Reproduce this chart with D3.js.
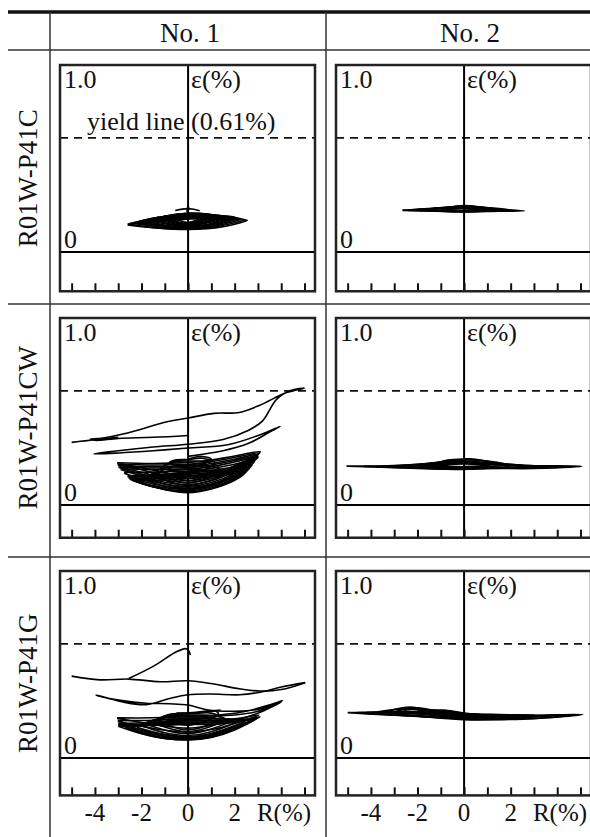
<html>
<head>
<meta charset="utf-8">
<title>Strain vs drift ratio</title>
<style>
body { margin: 0; background: #fff; }
text { font-family: "Liberation Serif", "Times New Roman", serif; fill: #111; }
</style>
<script src="https://d3js.org/d3.v7.min.js"></script>
</head>
<body>
<svg width="590" height="837"></svg>
<script>
var columns = ["No. 1", "No. 2"];
var specimens = ["R01W-P41C", "R01W-P41CW", "R01W-P41G"];
var driftTicks = [-5, -4, -3, -2, -1, 0, 1, 2, 3, 4, 5];
var driftLabels = [-4, -2, 0, 2];
var yieldStrain = 0.61;

// loops, points are [R(%), strain(%)]
var p41c_no1 = [
  [[-2.6,0.145],[-1.5,0.13],[0,0.12],[1.5,0.135],[2.55,0.17],[1.5,0.172],[0.5,0.178],[-0.5,0.172],[-1.5,0.162],[-2.6,0.15]],
  [[-2.5,0.148],[-1.3,0.128],[0,0.122],[1.3,0.138],[2.45,0.174],[1.3,0.176],[0,0.182],[-1.3,0.17],[-2.5,0.154]],
  [[-2.35,0.152],[-1.2,0.134],[0,0.125],[1.2,0.14],[2.3,0.178],[1.4,0.18],[0,0.185],[-1.2,0.176],[-2.35,0.158]],
  [[-2.2,0.155],[-1.1,0.132],[0,0.128],[1.1,0.142],[2.15,0.182],[1.2,0.184],[0,0.188],[-1.1,0.18],[-2.2,0.162]],
  [[-2.1,0.158],[-1,0.138],[0,0.13],[1,0.145],[2.05,0.185],[1.1,0.188],[0,0.19],[-1,0.183],[-2.1,0.166]],
  [[-1.95,0.162],[-1,0.14],[0,0.133],[1,0.148],[1.95,0.188],[1,0.19],[0,0.193],[-1,0.186],[-1.95,0.17]],
  [[-1.8,0.165],[-0.9,0.142],[0,0.135],[0.9,0.15],[1.8,0.19],[1,0.192],[0,0.196],[-1,0.19],[-1.8,0.174]],
  [[-1.65,0.168],[0,0.138],[1.65,0.19],[0.7,0.196],[-0.7,0.194],[-1.65,0.177]],
  [[-1.5,0.172],[0,0.14],[1.5,0.192],[0.6,0.198],[-0.6,0.196],[-1.5,0.18]],
  [[-1.35,0.176],[0,0.143],[1.35,0.194],[0.5,0.2],[-0.5,0.198],[-1.35,0.183]],
  [[-1.2,0.18],[0,0.146],[1.2,0.196],[0.4,0.202],[-0.5,0.2],[-1.2,0.186]],
  [[-1.05,0.183],[0,0.149],[1.05,0.198],[0.2,0.204],[-0.6,0.2],[-1.05,0.189]],
  [[-0.9,0.186],[0,0.152],[0.9,0.2],[0,0.206],[-0.9,0.192]],
  [[-0.7,0.19],[0,0.158],[0.7,0.2],[0,0.208],[-0.7,0.196]],
  [[-0.55,0.222],[0,0.232],[0.5,0.22]],
  [[-0.05,0.215],[0,0.244],[0.05,0.228]]
];
var p41c_no2 = [
  [[-2.65,0.222],[-1.5,0.22],[0,0.214],[1.5,0.218],[2.6,0.22],[1.5,0.226],[0,0.232],[-1.5,0.23],[-2.65,0.224]],
  [[-2.4,0.222],[-1.2,0.219],[0,0.215],[1.2,0.22],[2.3,0.222],[1.2,0.228],[0,0.236],[-1.2,0.232],[-2.4,0.225]],
  [[-2,0.222],[0,0.218],[2,0.225],[0,0.242],[-2,0.228]],
  [[-1.7,0.223],[0,0.217],[1.7,0.226],[0.8,0.236],[0,0.243],[-0.9,0.236],[-1.7,0.229]],
  [[-1.3,0.225],[0,0.22],[1.3,0.23],[0,0.245],[-1.3,0.232]],
  [[-1.0,0.226],[0,0.221],[1.0,0.232],[0.3,0.246],[-0.4,0.242],[-1.0,0.232]],
  [[-0.8,0.228],[0,0.222],[0.8,0.235],[0,0.248],[-0.8,0.235]]
];
var p41cw_no1 = [
  [[-5.0,0.335],[-4.0,0.35],[-2.6,0.385],[-0.9,0.445],[0,0.465],[1.1,0.49],[2.2,0.495],[3.1,0.535],[4.2,0.6],[5.0,0.625],[4.4,0.612],[3.8,0.565],[3.2,0.45],[2.6,0.4],[1.5,0.35],[0,0.325],[-1.5,0.31],[-3,0.29],[-4.05,0.273],[-3,0.278],[-1.5,0.29],[0,0.305],[1.7,0.322],[3.1,0.376],[3.95,0.42],[3.5,0.39],[2.6,0.33],[1.5,0.29],[0,0.26]],
  [[0,0.372],[-1.5,0.362],[-3.0,0.356],[-4.0,0.346],[-4.2,0.352],[-3.6,0.356],[-3.0,0.362]],
  [[-3.05,0.222],[-2,0.2],[-1,0.172],[0,0.155],[1,0.172],[2,0.21],[3.1,0.285],[2,0.262],[1,0.24],[0,0.228],[-1.5,0.222],[-3.05,0.226]],
  [[-3.02,0.215],[-2,0.188],[-1,0.158],[0,0.142],[1,0.16],[2,0.202],[3.05,0.278],[2,0.254],[1,0.232],[0,0.218],[-1.5,0.214],[-3.02,0.218]],
  [[-3.0,0.205],[-2,0.175],[-1,0.145],[0,0.13],[1,0.15],[2,0.195],[3.0,0.27],[2,0.245],[1,0.222],[0,0.208],[-1.5,0.205],[-3.0,0.21]],
  [[-2.95,0.198],[-2,0.165],[-1,0.133],[0,0.12],[1,0.14],[2,0.188],[3.0,0.262],[2,0.238],[1,0.214],[0,0.2],[-1.5,0.198],[-2.95,0.202]],
  [[-2.9,0.19],[-2,0.155],[-1,0.122],[0,0.11],[1,0.13],[2,0.18],[3.0,0.255],[2,0.23],[1,0.205],[0,0.192],[-1.5,0.19],[-2.9,0.194]],
  [[-2.75,0.17],[-1.7,0.13],[0,0.1],[1,0.12],[2,0.17],[2.9,0.245],[2,0.218],[1,0.195],[0,0.182],[-1.5,0.176],[-2.75,0.174]],
  [[-2.6,0.152],[-1.5,0.112],[0,0.09],[1,0.11],[2,0.16],[2.85,0.232],[2,0.205],[1,0.185],[0,0.172],[-1.5,0.162],[-2.6,0.156]],
  [[-2.55,0.145],[-1.5,0.104],[0,0.083],[1,0.103],[2,0.152],[2.75,0.215],[1.5,0.18],[0,0.164],[-1.5,0.154],[-2.55,0.148]],
  [[-2.5,0.138],[-1.5,0.097],[0,0.076],[1,0.096],[2,0.143],[2.65,0.2],[1.5,0.172],[0,0.156],[-1.5,0.146],[-2.5,0.142]],
  [[-2.4,0.133],[-1.2,0.09],[0,0.07],[1,0.09],[2,0.138],[2.55,0.188],[1.5,0.165],[0,0.15],[-1.3,0.14],[-2.4,0.136]],
  [[-2.3,0.128],[-1,0.082],[0,0.066],[1,0.086],[2,0.132],[2.45,0.175],[1.5,0.158],[0,0.142],[-1.2,0.132],[-2.3,0.13]],
  [[-2.0,0.14],[-1,0.1],[0,0.085],[1,0.105],[2.2,0.165],[1,0.17],[0,0.168],[-1,0.152],[-2.0,0.145]],
  [[-1.8,0.15],[-0.9,0.108],[0,0.095],[1,0.112],[1.9,0.16],[1,0.178],[0,0.178],[-0.9,0.165],[-1.8,0.155]],
  [[-1.6,0.16],[0,0.105],[1.6,0.17],[0.6,0.19],[-0.6,0.185],[-1.6,0.165]],
  [[-1.4,0.175],[0,0.118],[1.45,0.185],[0.7,0.21],[-0.6,0.208],[-1.4,0.182]],
  [[-1.2,0.19],[0,0.13],[1.3,0.2],[0.8,0.23],[0,0.235],[-0.6,0.23],[-1.2,0.2]],
  [[-1.0,0.208],[0,0.165],[1.15,0.225],[0.6,0.25],[0,0.242],[-0.5,0.238],[-1.0,0.215]],
  [[-0.8,0.225],[0,0.2],[1.0,0.245],[0.5,0.26],[0,0.245],[-0.5,0.242],[-0.8,0.23]]
];
var p41cw_no2 = [
  [[-5.05,0.207],[-3,0.2],[-1,0.192],[0,0.19],[1,0.195],[3,0.195],[5.05,0.207],[3,0.21],[1,0.215],[0,0.22],[-1,0.215],[-3,0.21],[-5.05,0.208]],
  [[-4.3,0.206],[-2.5,0.2],[-1,0.193],[0,0.192],[1,0.196],[2.5,0.198],[4.3,0.206],[2.5,0.21],[1,0.218],[0,0.224],[-1,0.218],[-2.5,0.21],[-4.3,0.207]],
  [[-3.5,0.205],[-1.5,0.2],[0,0.195],[1.5,0.2],[3.5,0.205],[1.5,0.22],[0,0.228],[-1.5,0.22],[-3.5,0.208]],
  [[-2.8,0.207],[-1.2,0.2],[0,0.197],[1.2,0.202],[2.8,0.207],[1.2,0.226],[0,0.234],[-1.2,0.226],[-2.8,0.21]],
  [[-2,0.21],[0,0.2],[2,0.21],[1,0.235],[0,0.24],[-1,0.23],[-2,0.215]],
  [[-1.6,0.212],[0,0.202],[1.6,0.214],[0.8,0.238],[0,0.243],[-0.8,0.235],[-1.6,0.218]],
  [[-1.2,0.215],[0,0.205],[1.2,0.22],[0.5,0.245],[0,0.246],[-0.7,0.24],[-1.2,0.22]]
];
var p41g_no1 = [
  [[-2.55,0.425],[-1.5,0.49],[-0.5,0.568],[-0.1,0.585],[0.02,0.575],[0.1,0.55]],
  [[-5.0,0.438],[-3.8,0.418],[-2.55,0.422],[-1.2,0.408],[0,0.413],[1.0,0.398],[2.2,0.37],[3.1,0.358],[4.0,0.366],[5.03,0.403]],
  [[5.03,0.403],[4.0,0.38],[3.1,0.352],[2.2,0.338],[1.0,0.342],[0,0.338],[-0.8,0.318],[-1.8,0.285],[-2.9,0.302],[-3.95,0.337],[-3.8,0.33],[-2.9,0.308],[-1.8,0.293],[-0.8,0.29],[0,0.283],[0.8,0.258],[2.0,0.25],[3.1,0.262],[4.05,0.307],[3.4,0.28],[2.5,0.25],[1.5,0.232],[0.5,0.222]],
  [[-3.05,0.212],[-2,0.19],[-1,0.17],[0,0.16],[1,0.175],[2,0.2],[3.0,0.24],[4.0,0.3],[3,0.25],[2,0.23],[1,0.225],[0,0.225],[-1.5,0.215],[-3.05,0.215]],
  [[-3.02,0.195],[-2,0.17],[-1,0.148],[0,0.138],[1,0.152],[2,0.185],[3.05,0.23],[2,0.21],[1,0.21],[0,0.212],[-1.5,0.202],[-3.02,0.2]],
  [[-3.0,0.18],[-2,0.15],[-1,0.125],[0,0.115],[1,0.13],[2,0.17],[3.1,0.22],[2,0.2],[1,0.2],[0,0.2],[-1.5,0.19],[-3.0,0.185]],
  [[-2.9,0.175],[-2,0.14],[-1,0.115],[0,0.105],[1,0.12],[2,0.16],[3.0,0.215],[2,0.195],[1,0.19],[0,0.19],[-1.5,0.182],[-2.9,0.178]],
  [[-3.0,0.17],[-2,0.13],[-1,0.105],[0,0.097],[1,0.11],[2,0.15],[2.9,0.21],[2,0.19],[1,0.18],[0,0.18],[-1.5,0.175],[-3.0,0.172]],
  [[-2.7,0.165],[-1.5,0.115],[0,0.098],[1,0.112],[2,0.155],[2.8,0.205],[1.5,0.192],[0,0.185],[-1.3,0.178],[-2.7,0.168]],
  [[-2.5,0.16],[-1.5,0.12],[0,0.1],[1,0.115],[2,0.16],[2.7,0.2],[1.5,0.19],[0,0.19],[-1.2,0.18],[-2.5,0.165]],
  [[-2.35,0.162],[-1.2,0.122],[0,0.105],[1,0.122],[2.2,0.18],[2.5,0.205],[1.3,0.198],[0,0.198],[-1.1,0.188],[-2.35,0.17]],
  [[-2.2,0.165],[-1,0.125],[0,0.11],[1,0.13],[2.4,0.2],[1.2,0.2],[0,0.205],[-1,0.195],[-2.2,0.175]],
  [[-2.0,0.172],[-1,0.135],[0,0.12],[1,0.14],[2.1,0.2],[1.1,0.21],[0,0.212],[-1,0.205],[-2.0,0.182]],
  [[-1.8,0.18],[0,0.13],[1.8,0.2],[1.0,0.215],[0,0.22],[-1,0.215],[-1.8,0.19]],
  [[-1.55,0.19],[0,0.14],[1.6,0.208],[1.0,0.228],[0,0.228],[-0.8,0.225],[-1.55,0.2]],
  [[-1.3,0.2],[0,0.15],[1.4,0.215],[1,0.24],[0,0.235],[-0.7,0.235],[-1.3,0.21]],
  [[-1.1,0.212],[0,0.175],[1.3,0.235],[1.2,0.25],[0.3,0.242],[-0.6,0.236],[-1.1,0.22]],
  [[-1.0,0.225],[0,0.24],[1.4,0.257],[0.5,0.245],[-0.5,0.24]]
];
var p41g_no2 = [
  [[-5.0,0.242],[-3.5,0.232],[-2,0.222],[0,0.205],[1.5,0.205],[3,0.21],[5.1,0.233],[3,0.228],[1.5,0.228],[0,0.23],[-2,0.238],[-3.5,0.242],[-5.0,0.243]],
  [[-4.6,0.241],[-3.2,0.232],[-1.8,0.222],[0,0.208],[1.8,0.208],[3.5,0.215],[4.6,0.23],[3,0.226],[1.5,0.228],[0,0.232],[-2,0.24],[-3.2,0.246],[-4.6,0.243]],
  [[-4.2,0.24],[-3,0.23],[-1.5,0.22],[0,0.21],[2,0.212],[4,0.228],[2,0.225],[0,0.232],[-1.5,0.245],[-3,0.248],[-4.2,0.243]],
  [[-3.7,0.243],[-2.5,0.232],[-1,0.218],[0,0.212],[2,0.216],[3.5,0.226],[2,0.23],[0,0.234],[-1.5,0.25],[-2.6,0.262],[-3.7,0.247]],
  [[-3.3,0.245],[-2,0.235],[0,0.215],[1.5,0.22],[3,0.23],[1.5,0.232],[0,0.235],[-1.5,0.255],[-2.3,0.272],[-3.3,0.25]],
  [[-2.9,0.248],[-1.8,0.236],[0,0.22],[1.3,0.224],[2.5,0.228],[1.2,0.232],[0,0.236],[-1.2,0.252],[-2.0,0.268],[-2.9,0.252]],
  [[-2.6,0.25],[-1.5,0.235],[0,0.222],[1,0.225],[2,0.23],[1,0.232],[0,0.238],[-1,0.25],[-1.7,0.262],[-2.6,0.255]],
  [[-2.0,0.248],[-1,0.235],[0,0.226],[1,0.23],[0,0.238],[-0.9,0.255],[-2.0,0.252]],
  [[-1.5,0.245],[0,0.225],[0.8,0.23],[0,0.24],[-0.8,0.255],[-1.5,0.25]]
];
var panels = [[p41c_no1, p41c_no2], [p41cw_no1, p41cw_no2], [p41g_no1, p41g_no2]];

var svg = d3.select("svg");
var colLeft = [60, 336], colHead = [190, 470], colLine = 326;
var rowTop = [65, 318, 571], rowMin = [-0.21, -0.175, -0.2], rowSep = [304, 557];
var boxW = 255, pxPerUnit = 187;

// table rules
svg.append("line").attr("x1", 8).attr("x2", 590).attr("y1", 12).attr("y2", 12)
  .attr("stroke", "#111").attr("stroke-width", 3.5);
svg.append("line").attr("x1", 8).attr("x2", 590).attr("y1", 50).attr("y2", 50)
  .attr("stroke", "#333").attr("stroke-width", 1.5);
rowSep.forEach(function(y) {
  svg.append("line").attr("x1", 8).attr("x2", 590).attr("y1", y).attr("y2", y)
    .attr("stroke", "#333").attr("stroke-width", 1.5);
});
[50, colLine].forEach(function(x) {
  svg.append("line").attr("x1", x).attr("x2", x).attr("y1", 12).attr("y2", 837)
    .attr("stroke", "#333").attr("stroke-width", 1.5);
});

columns.forEach(function(c, i) {
  svg.append("text").attr("x", colHead[i]).attr("y", 42)
    .attr("text-anchor", "middle").style("font-size", "27px").text(c);
});

var x = d3.scaleLinear().domain([-5.5, 5.45]).range([0, boxW]);
var line = d3.line().x(d => x(d[0]));

specimens.forEach(function(name, r) {
  var h = pxPerUnit * (1 - rowMin[r]);
  var y = d3.scaleLinear().domain([rowMin[r], 1]).range([h, 0]);
  line.y(d => y(d[1])).curve(d3.curveCatmullRom.alpha(0.5));

  svg.append("text")
    .attr("transform", `translate(37,${rowTop[r] + h / 2}) rotate(-90)`)
    .attr("text-anchor", "middle").style("font-size", "27px").text(name);

  columns.forEach(function(c, k) {
    var g = svg.append("g").attr("transform", `translate(${colLeft[k]},${rowTop[r]})`);

    g.append("line").attr("x1", 0).attr("x2", boxW).attr("y1", y(yieldStrain)).attr("y2", y(yieldStrain))
      .attr("stroke", "#111").attr("stroke-width", 1.8).attr("stroke-dasharray", "8,6");
    g.append("line").attr("x1", 0).attr("x2", boxW).attr("y1", y(0)).attr("y2", y(0))
      .attr("stroke", "#000").attr("stroke-width", 2);
    g.append("line").attr("x1", x(0)).attr("x2", x(0)).attr("y1", 0).attr("y2", h)
      .attr("stroke", "#000").attr("stroke-width", 2);

    g.selectAll(".loop").data(panels[r][k]).enter().append("path")
      .attr("class", "loop")
      .attr("d", line)
      .attr("fill", "none").attr("stroke", "#000").attr("stroke-width", 1.6)
      .attr("stroke-linejoin", "round");

    var ax = g.append("g").attr("transform", `translate(0,${h})`)
      .call(d3.axisTop(x).tickValues(driftTicks).tickSize(8).tickFormat(""));
    ax.select(".domain").remove();
    ax.selectAll(".tick line").attr("stroke", "#111").attr("stroke-width", 2);

    g.append("rect").attr("width", boxW).attr("height", h)
      .attr("fill", "none").attr("stroke", "#222").attr("stroke-width", 2.5);

    g.append("text").attr("x", 4).attr("y", 23).style("font-size", "26px").text("1.0");
    g.append("text").attr("x", x(0) + 3).attr("y", 23).style("font-size", "26px").text("ε(%)");
    g.append("text").attr("x", 4).attr("y", y(0) - 4).style("font-size", "26px").text("0");
    if (r == 0 && k == 0) {
      g.append("text").attr("x", 27).attr("y", y(yieldStrain) - 8)
        .style("font-size", "26px").text("yield line (0.61%)");
    }

    if (r == specimens.length - 1) {
      g.selectAll(".rlab").data(driftLabels).enter().append("text")
        .attr("x", d => x(d)).attr("y", h + 26)
        .attr("text-anchor", "middle").style("font-size", "25px").text(d => d);
      g.append("text").attr("x", x(3) - 1).attr("y", h + 26)
        .style("font-size", "25px").text("R(%)");
    }
  });
});
</script>
</body>
</html>
